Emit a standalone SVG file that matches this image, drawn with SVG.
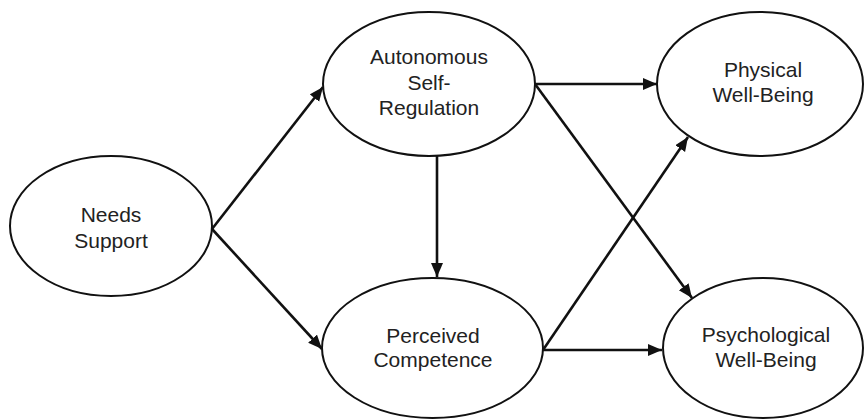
<svg xmlns="http://www.w3.org/2000/svg" width="864" height="419" viewBox="0 0 864 419">
  <defs>
    <marker id="arrow" markerUnits="userSpaceOnUse" markerWidth="16" markerHeight="14" refX="14" refY="6" orient="auto">
      <path d="M0,0 L14,6 L0,12 Z" fill="#111"/>
    </marker>
    <style>
      .node ellipse { fill: #fff; stroke: #111; stroke-width: 2; }
      .node text { font-family: "Liberation Sans", Arial, Helvetica, sans-serif; font-size: 21px; fill: #222; text-anchor: middle; }
      #connectors line { stroke: #111; stroke-width: 2.6; fill: none; marker-end: url(#arrow); }
    </style>
  </defs>
  <rect width="864" height="419" fill="#fff"/>

  <g id="connectors">
    <line x1="212" y1="229" x2="323" y2="87"/>
    <line x1="212" y1="229" x2="322" y2="349"/>
    <line x1="437" y1="155" x2="437" y2="277"/>
    <line x1="535" y1="84" x2="657" y2="84"/>
    <line x1="535" y1="84" x2="692" y2="298"/>
    <line x1="543" y1="350" x2="688" y2="137"/>
    <line x1="543" y1="350" x2="662" y2="350"/>
  </g>

  <g id="needs-support" class="node">
    <ellipse cx="111" cy="226" rx="101" ry="70"/>
    <text x="111" y="222">Needs</text>
    <text x="111" y="248">Support</text>
  </g>

  <g id="autonomous-self-regulation" class="node">
    <ellipse cx="429" cy="84" rx="106" ry="72"/>
    <text x="429" y="64">Autonomous</text>
    <text x="429" y="90">Self-</text>
    <text x="429" y="115">Regulation</text>
  </g>

  <g id="perceived-competence" class="node">
    <ellipse cx="432.5" cy="348" rx="110.5" ry="70"/>
    <text x="433" y="343">Perceived</text>
    <text x="433" y="367">Competence</text>
  </g>

  <g id="physical-well-being" class="node">
    <ellipse cx="760" cy="84" rx="103" ry="72"/>
    <text x="763" y="77">Physical</text>
    <text x="763" y="102">Well-Being</text>
  </g>

  <g id="psychological-well-being" class="node">
    <ellipse cx="763" cy="348" rx="100" ry="70"/>
    <text x="766" y="342">Psychological</text>
    <text x="766" y="367">Well-Being</text>
  </g>
</svg>
